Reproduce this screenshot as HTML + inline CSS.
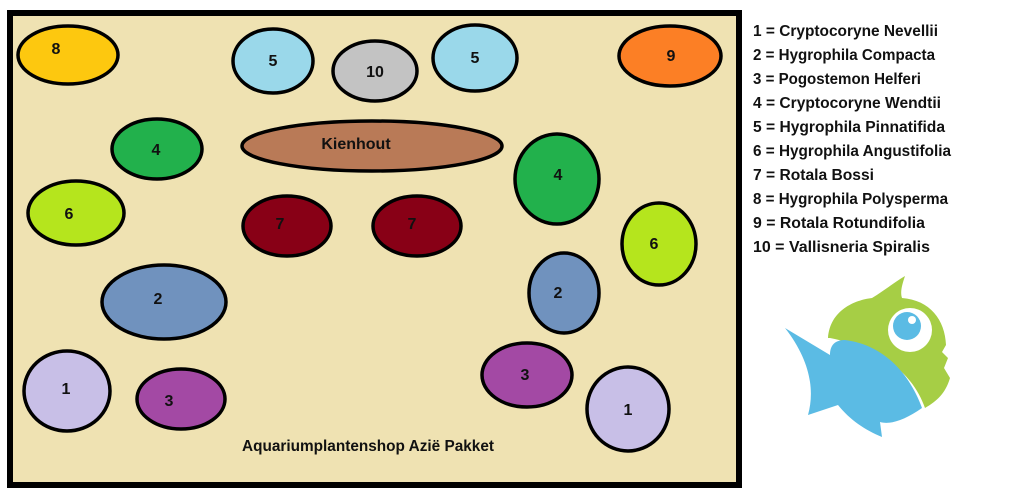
<!DOCTYPE html>
<html><head><meta charset="utf-8"><style>
body{margin:0;background:#fff;width:1010px;height:500px;overflow:hidden}
svg{display:block}
text{font-family:"Liberation Sans Narrow","Liberation Sans",sans-serif;font-weight:bold;fill:#111}
</style></head><body>
<svg width="1010" height="500" viewBox="0 0 1010 500">
<rect x="10" y="13" width="729" height="472" fill="#efe2b2" stroke="#000" stroke-width="6"/>
<g stroke="#000" stroke-width="3.5">
<ellipse cx="68" cy="55" rx="50" ry="29" fill="#fdc80f"/>
<ellipse cx="273" cy="61" rx="40" ry="32" fill="#9ad8ea"/>
<ellipse cx="375" cy="71" rx="42" ry="30" fill="#c3c3c3"/>
<ellipse cx="475" cy="58" rx="42" ry="33" fill="#9ad8ea"/>
<ellipse cx="670" cy="56" rx="51" ry="30" fill="#fc7f25"/>
<ellipse cx="372" cy="146" rx="130" ry="25" fill="#b97a57"/>
<ellipse cx="157" cy="149" rx="45" ry="30" fill="#22b14c"/>
<ellipse cx="557" cy="179" rx="42" ry="45" fill="#22b14c"/>
<ellipse cx="76" cy="213" rx="48" ry="32" fill="#b5e51d"/>
<ellipse cx="287" cy="226" rx="44" ry="30" fill="#880016"/>
<ellipse cx="417" cy="226" rx="44" ry="30" fill="#880016"/>
<ellipse cx="659" cy="244" rx="37" ry="41" fill="#b5e51d"/>
<ellipse cx="164" cy="302" rx="62" ry="37" fill="#7092be"/>
<ellipse cx="564" cy="293" rx="35" ry="40" fill="#7092be"/>
<ellipse cx="67" cy="391" rx="43" ry="40" fill="#c8bfe7"/>
<ellipse cx="181" cy="399" rx="44" ry="30" fill="#a349a4"/>
<ellipse cx="527" cy="375" rx="45" ry="32" fill="#a349a4"/>
<ellipse cx="628" cy="409" rx="41" ry="42" fill="#c8bfe7"/>
</g>
<g font-size="16" text-anchor="middle">
<text x="56" y="54">8</text><text x="273" y="66">5</text><text x="375" y="77">10</text>
<text x="475" y="63">5</text><text x="671" y="61">9</text><text x="356" y="149">Kienhout</text>
<text x="156" y="155">4</text><text x="558" y="180">4</text><text x="69" y="219">6</text>
<text x="280" y="229">7</text><text x="412" y="229">7</text><text x="654" y="249">6</text>
<text x="158" y="304">2</text><text x="558" y="298">2</text><text x="66" y="394">1</text>
<text x="169" y="406">3</text><text x="525" y="380">3</text><text x="628" y="415">1</text>
<text x="368" y="451" textLength="252" lengthAdjust="spacingAndGlyphs">Aquariumplantenshop Azië Pakket</text>
</g>
<g font-size="16">
<text x="753" y="36" textLength="185" lengthAdjust="spacingAndGlyphs">1 = Cryptocoryne Nevellii</text>
<text x="753" y="60" textLength="182" lengthAdjust="spacingAndGlyphs">2 = Hygrophila Compacta</text>
<text x="753" y="84" textLength="168" lengthAdjust="spacingAndGlyphs">3 = Pogostemon Helferi</text>
<text x="753" y="108" textLength="188" lengthAdjust="spacingAndGlyphs">4 = Cryptocoryne Wendtii</text>
<text x="753" y="132" textLength="192" lengthAdjust="spacingAndGlyphs">5 = Hygrophila Pinnatifida</text>
<text x="753" y="156" textLength="198" lengthAdjust="spacingAndGlyphs">6 = Hygrophila Angustifolia</text>
<text x="753" y="180" textLength="121" lengthAdjust="spacingAndGlyphs">7 = Rotala Bossi</text>
<text x="753" y="204" textLength="195" lengthAdjust="spacingAndGlyphs">8 = Hygrophila Polysperma</text>
<text x="753" y="228" textLength="172" lengthAdjust="spacingAndGlyphs">9 = Rotala Rotundifolia</text>
<text x="753" y="252" textLength="177" lengthAdjust="spacingAndGlyphs">10 = Vallisneria Spiralis</text>
</g>
<path d="M828,338 C830,310 855,300 872,298 C885,290 895,282 905,276 C902,285 900,292 902,298 C930,300 945,320 946,345 L942,352 L948,358 L944,368 L950,378 C945,395 935,402 925,408 C915,380 890,350 830,338 Z" fill="#a6ce45"/>
<path d="M785,328 L830,355 C830,345 835,340 845,340 C885,345 910,375 922,408 C905,420 890,425 880,422 L882,437 C865,430 850,420 838,405 L808,415 C815,390 810,360 785,328 Z" fill="#5bbbe4"/>
<circle cx="910" cy="330" r="22" fill="#fff"/>
<circle cx="907" cy="326" r="14" fill="#5bbbe4"/>
<circle cx="912" cy="320" r="4" fill="#fff"/>
</svg>
</body></html>
